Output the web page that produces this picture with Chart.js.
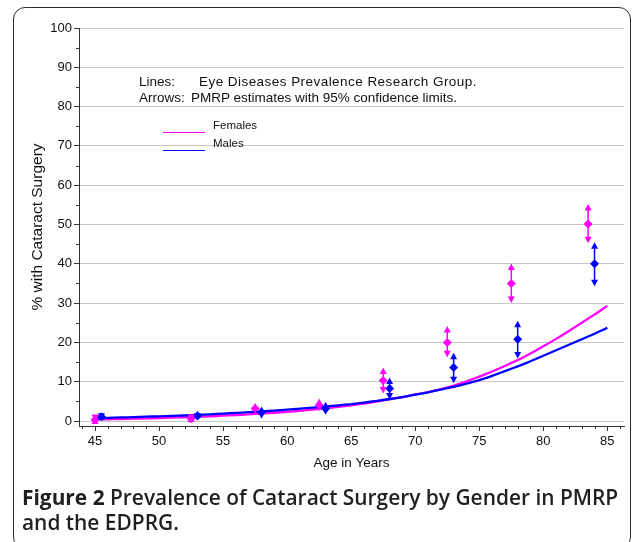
<!DOCTYPE html>
<html>
<head>
<meta charset="utf-8">
<script src="https://cdn.jsdelivr.net/npm/chart.js@4.4.0/dist/chart.umd.min.js"></script>
<style>
  html, body { margin: 0; padding: 0; background: #fff; }
  body { width: 634px; height: 542px; position: relative; overflow: hidden; font-family: Arial, "Liberation Sans", sans-serif; }
  #frame { position: absolute; left: 13px; top: 7px; width: 618px; height: 542px; border: 1.5px solid #2b2b2b; border-radius: 12px; box-sizing: border-box; }
  #chart { position: absolute; left: 0; top: 0; }
  .note { position: absolute; font-size: 13.5px; line-height: 15px; color: #111; white-space: pre; }
  .key { position: absolute; font-size: 11.5px; line-height: 13px; color: #111; }
  .swatch { position: absolute; height: 1.5px; width: 42px; }
  .caption { position: absolute; left: 22px; top: 485px; white-space: nowrap; font-family: "Open Sans", sans-serif; font-size: 20.9px; line-height: 25px; color: #231f20; font-weight: 600; }
  .caption b { font-weight: 700; }
</style>
</head>
<body>
<div id="frame"></div>
<canvas id="chart" width="634" height="542"></canvas>

<div class="note" style="left:139px; top:74px;">Lines:</div>
<div class="note" style="left:199px; top:74px; letter-spacing:0.45px;">Eye Diseases Prevalence Research Group.</div>
<div class="note" style="left:139px; top:90px;">Arrows:</div>
<div class="note" style="left:191px; top:90px;">PMRP estimates with 95% confidence limits.</div>

<div class="swatch" style="left:163px; top:131.5px; background:#ff00ff;"></div>
<div class="key" style="left:213px; top:119px;">Females</div>
<div class="swatch" style="left:163px; top:149.5px; background:#0000ff;"></div>
<div class="key" style="left:213px; top:137px;">Males</div>

<div class="caption"><b>Figure 2</b> Prevalence of Cataract Surgery by Gender in PMRP<br>and the EDPRG.</div>

<script>
// EDPRG curves, one value per year of age
const curveAges = [45, 46, 47, 48, 49, 50, 51, 52, 53, 54, 55, 56, 57, 58, 59, 60, 61, 62, 63, 64, 65,
  66, 67, 68, 69, 70, 71, 72, 73, 74, 75, 76, 77, 78, 79, 80, 81, 82, 83, 84, 85];
const femaleCurve = [0.4, 0.45, 0.5, 0.6, 0.65, 0.75, 0.85, 0.95, 1.05, 1.2, 1.35, 1.5, 1.7, 1.9, 2.1, 2.35, 2.6, 2.9, 3.25, 3.6, 4.0,
  4.45, 4.95, 5.5, 6.1, 6.75, 7.35, 8.1, 9.0, 10.1, 11.3, 12.6, 14.0, 15.5, 17.2, 19.0, 20.9, 22.9, 25.0, 27.1, 29.3];
const maleCurve = [0.7, 0.8, 0.9, 1.0, 1.1, 1.2, 1.3, 1.4, 1.55, 1.7, 1.9, 2.05, 2.25, 2.45, 2.65, 2.9, 3.15, 3.4, 3.7, 4.0, 4.3,
  4.7, 5.1, 5.6, 6.1, 6.7, 7.3, 8.0, 8.7, 9.5, 10.4, 11.5, 12.7, 13.9, 15.2, 16.6, 18.0, 19.4, 20.8, 22.2, 23.7];

// PMRP estimates with 95% limits
const femaleAges = [45, 52.5, 57.5, 62.5, 67.5, 72.5, 77.5, 83.5];
const femaleEst = [0.3, 0.6, 3.2, 4.1, 10.3, 20.0, 35.0, 50.1];
const femaleLow = [0, 0, 1.9, 2.5, 7.0, 16.2, 30.0, 45.2];
const femaleHigh = [0.9, 1.4, 4.6, 5.7, 13.6, 24.2, 40.1, 55.2];

const maleAges = [45.5, 53, 58, 63, 68, 73, 78, 84];
const maleEst = [1.1, 1.3, 2.2, 3.1, 8.3, 13.6, 20.8, 40.0];
const maleLow = [0.3, 0.3, 0.6, 1.6, 5.5, 9.6, 15.9, 34.3];
const maleHigh = [2.0, 2.6, 3.7, 4.9, 11.1, 17.4, 25.5, 45.5];

// axis ticks
const xTicks = [45, 50, 55, 60, 65, 70, 75, 80, 85];
const xMinorTicks = [44, 46, 47, 48, 49, 51, 52, 53, 54, 56, 57, 58, 59, 61, 62, 63, 64,
  66, 67, 68, 69, 71, 72, 73, 74, 76, 77, 78, 79, 81, 82, 83, 84, 86];
const yTicks = [0, 10, 20, 30, 40, 50, 60, 70, 80, 90, 100];
const yMinorTicks = [5, 15, 25, 35, 45, 55, 65, 75, 85, 95];

const pts = (xs, ys) => xs.map((v, i) => ({ x: v, y: ys[i] }));

// vertical bars with arrow heads at both limits
const errorBars = {
  id: 'errorBars',
  afterDatasetsDraw(chart) {
    const { ctx, scales: { x, y } } = chart;
    chart.data.datasets.forEach((ds) => {
      if (!ds.ciLow) return;
      ctx.save();
      ctx.strokeStyle = ds.borderColor;
      ctx.fillStyle = ds.borderColor;
      ctx.lineWidth = 1.5;
      ds.data.forEach((p, j) => {
        const px = x.getPixelForValue(p.x);
        const lo = y.getPixelForValue(ds.ciLow[j]);
        const hi = y.getPixelForValue(ds.ciHigh[j]);
        ctx.beginPath();
        ctx.moveTo(px, lo - 4);
        ctx.lineTo(px, hi + 4);
        ctx.stroke();
        ctx.beginPath();
        ctx.moveTo(px, hi);
        ctx.lineTo(px - 3.5, hi + 6.5);
        ctx.lineTo(px + 3.5, hi + 6.5);
        ctx.closePath();
        ctx.fill();
        ctx.beginPath();
        ctx.moveTo(px, lo);
        ctx.lineTo(px - 3.5, lo - 6.5);
        ctx.lineTo(px + 3.5, lo - 6.5);
        ctx.closePath();
        ctx.fill();
      });
      ctx.restore();
    });
  }
};

const minorTicks = {
  id: 'minorTicks',
  afterDraw(chart) {
    const { ctx, chartArea, scales: { x, y } } = chart;
    ctx.save();
    ctx.strokeStyle = '#333';
    ctx.lineWidth = 1;
    ctx.beginPath();
    xMinorTicks.forEach((v) => {
      const px = Math.round(x.getPixelForValue(v)) + 0.5;
      ctx.moveTo(px, chartArea.bottom);
      ctx.lineTo(px, chartArea.bottom + 3);
    });
    yMinorTicks.forEach((v) => {
      const py = Math.round(y.getPixelForValue(v)) + 0.5;
      ctx.moveTo(chartArea.left - 3, py);
      ctx.lineTo(chartArea.left, py);
    });
    ctx.stroke();
    ctx.restore();
  }
};

new Chart(document.getElementById('chart'), {
  data: {
    datasets: [
      {
        type: 'scatter',
        label: 'Females PMRP',
        data: pts(femaleAges, femaleEst),
        ciLow: femaleLow,
        ciHigh: femaleHigh,
        borderColor: '#ff00ff',
        backgroundColor: '#ff00ff',
        pointStyle: 'rectRot',
        pointRadius: 4.5,
        borderWidth: 0,
        order: 0
      },
      {
        type: 'scatter',
        label: 'Males PMRP',
        data: pts(maleAges, maleEst),
        ciLow: maleLow,
        ciHigh: maleHigh,
        borderColor: '#0000ff',
        backgroundColor: '#0000ff',
        pointStyle: 'rectRot',
        pointRadius: 4.5,
        borderWidth: 0,
        order: 0
      },
      {
        type: 'line',
        label: 'Males',
        data: pts(curveAges, maleCurve),
        borderColor: '#0000ff',
        borderWidth: 2.3,
        pointRadius: 0,
        tension: 0.2,
        order: 1
      },
      {
        type: 'line',
        label: 'Females',
        data: pts(curveAges, femaleCurve),
        borderColor: '#ff00ff',
        borderWidth: 2.3,
        pointRadius: 0,
        tension: 0.2,
        order: 2
      }
    ]
  },
  options: {
    responsive: false,
    animation: false,
    events: [],
    layout: { padding: { left: 24, top: 28, right: 10, bottom: 67 } },
    plugins: {
      legend: { display: false },
      tooltip: { enabled: false }
    },
    scales: {
      x: {
        type: 'linear',
        min: 43.75,
        max: 86.3,
        afterBuildTicks: (scale) => { scale.ticks = xTicks.map((v) => ({ value: v })); },
        afterFit: (scale) => { scale.height = 49; },
        grid: { drawOnChartArea: false, drawTicks: true, tickLength: 5, tickColor: '#333' },
        border: { display: true, color: '#333', width: 1 },
        ticks: {
          color: '#111',
          padding: 3,
          maxRotation: 0,
          font: { family: 'Arial, "Liberation Sans", sans-serif', size: 13 }
        },
        title: {
          display: true,
          text: 'Age in Years',
          color: '#111',
          padding: { top: 4, bottom: 4 },
          font: { family: 'Arial, "Liberation Sans", sans-serif', size: 13.5 }
        }
      },
      y: {
        type: 'linear',
        min: -1.27,
        max: 100,
        afterBuildTicks: (scale) => { scale.ticks = yTicks.map((v) => ({ value: v })); },
        afterFit: (scale) => { scale.width = 55; },
        grid: { color: '#c8c8c8', lineWidth: 1, drawTicks: true, tickLength: 5, tickColor: '#333' },
        border: { display: true, color: '#333', width: 1 },
        ticks: {
          color: '#111',
          padding: 2,
          font: { family: 'Arial, "Liberation Sans", sans-serif', size: 13 }
        },
        title: {
          display: true,
          text: '% with Cataract Surgery',
          color: '#111',
          padding: { top: 4, bottom: 4 },
          font: { family: 'Arial, "Liberation Sans", sans-serif', size: 15.5 }
        }
      }
    }
  },
  plugins: [errorBars, minorTicks]
});
</script>
</body>
</html>
